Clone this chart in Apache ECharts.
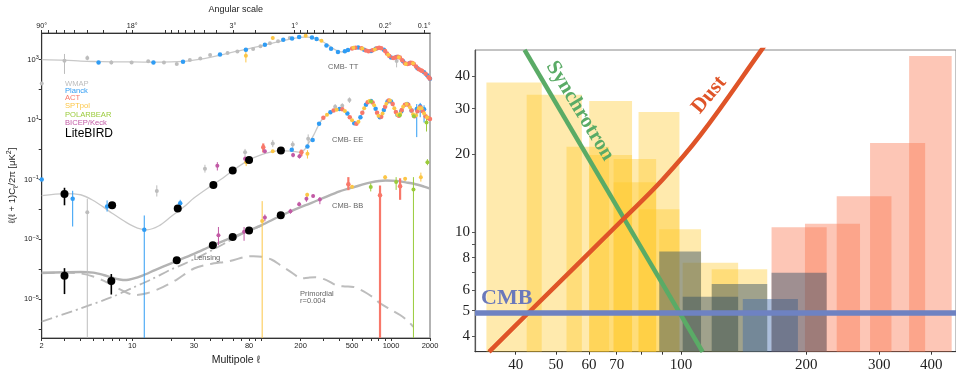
<!DOCTYPE html>
<html>
<head>
<meta charset="utf-8">
<script src="https://cdn.jsdelivr.net/npm/echarts@6/dist/echarts.min.js"></script>
<style>
  html, body { margin: 0; padding: 0; background: #fff; }
  #main { width: 956px; height: 376px; }
</style>
</head>
<body>
<div id="main"></div>
<script>
const lg = Math.log10;

// ---------- left panel: CMB power spectra (multipole l, D_l in uK^2) ----------
const xTickLabels = [2, 10, 30, 80, 200, 500, 1000, 2000];
const xTicks = [2, 3, 4, 5, 6, 7, 8, 9, 10, 20, 30, 40, 50, 60, 70, 80, 90, 100, 200, 300, 400, 500, 600, 700, 800, 900, 1000, 2000];
const angleLabels = [90, 18, 3, 1, 0.2, 0.1];
const angleTicks = [90, 80, 70, 60, 50, 40, 30, 20, 18, 10, 9, 8, 7, 6, 5, 4, 3, 2, 1, 0.9, 0.8, 0.7, 0.6, 0.5, 0.4, 0.3, 0.2, 0.1];
const yExpLabels = [-5, -3, -1, 1, 3];
const yExpTicks = [-6, -5, -4, -3, -2, -1, 0, 1, 2, 3];

const ttCurve = [[2,1000],[3,960],[4,900],[5,870],[7,850],[10,840],[15,830],[20,840],[25,880],[30,960],[40,1200],[50,1480],[60,1800],[80,2350],[100,2900],[120,3500],[150,4400],[180,5200],[200,5550],[220,5700],[240,5550],[260,5100],[280,4500],[300,3900],[330,3000],[360,2300],[400,1850],[430,1800],[470,2050],[510,2450],[540,2550],[570,2500],[610,2250],[650,1950],[690,1900],[740,2150],[790,2450],[820,2480],[860,2300],[910,1800],[960,1380],[1010,1150],[1060,1140],[1110,1230],[1150,1220],[1200,1050],[1260,820],[1310,700],[1370,730],[1430,790],[1480,760],[1540,630],[1600,520],[1680,450],[1760,410],[1820,370],[1900,300],[2000,230]];
const eeCurve = [[2,0.029],[3,0.034],[4,0.031],[5,0.02],[6,0.012],[7,0.0075],[9,0.0037],[11,0.0024],[13,0.0021],[16,0.0028],[20,0.0058],[25,0.012],[30,0.024],[40,0.058],[50,0.11],[60,0.2],[80,0.45],[100,0.68],[120,0.84],[140,0.92],[170,0.88],[200,0.82],[215,1.0],[230,1.6],[250,2.8],[270,5.5],[290,9.5],[320,14.5],[360,20],[400,22.5],[440,19.5],[480,12],[520,7.5],[550,7.4],[580,12],[620,24],[660,38],[690,42.5],[720,37],[760,23],[800,13.5],[830,12],[870,19],[920,34],[970,43],[1000,40],[1060,24],[1120,14.5],[1150,13.5],[1210,21],[1280,31],[1330,33],[1400,26],[1480,15],[1530,13],[1600,19],[1680,26],[1760,19],[1850,13],[1950,11],[2000,10.5]];
const bbTotal = [[2,7.7e-5],[3,8e-5],[4,8.2e-5],[5,7.8e-5],[6,6.5e-5],[7,5.3e-5],[8,4.6e-5],[9,4.4e-5],[10,4.8e-5],[12,6.2e-5],[15,9.5e-5],[20,1.6e-4],[30,3.3e-4],[42,6.4e-4],[60,1.2e-3],[80,2e-3],[100,3e-3],[143,6.4e-3],[200,1.2e-2],[282,0.0215],[400,0.04],[512,0.055],[700,0.08],[906,0.093],[1100,0.09],[1300,0.08],[1500,0.072],[1800,0.058],[2000,0.05]];
const bbLensing = [[2,1.8e-6],[4,5e-6],[7,1.2e-5],[10,2.4e-5],[14,4.6e-5],[20,1e-4],[25,1.5e-4],[35,3e-4],[50,6.8e-4],[70,1.5e-3],[100,2.9e-3]];
const bbPrimordial = [[2,7.5e-5],[3,7.8e-5],[4,7.3e-5],[5,5.8e-5],[6,4.2e-5],[7,3e-5],[8.5,1.9e-5],[10.5,1.4e-5],[13,1.6e-5],[17.4,2.6e-5],[22,4.5e-5],[30,1.07e-4],[40,1.5e-4],[57,1.9e-4],[75,2.65e-4],[86,2.76e-4],[100,2.65e-4],[120,2.1e-4],[139,1.4e-4],[170,8e-5],[203,5e-5],[230,5.3e-5],[260,5.5e-5],[317,4.4e-5],[380,2.9e-5],[440,2.7e-5],[512,2.6e-5],[580,2.1e-5],[650,1.6e-5],[740,1.1e-5],[822,7.4e-6],[1000,4.5e-6],[1175,3e-6],[1350,1.9e-6],[1490,1.2e-6]];

// measured points: [l, D] or [l, D, low, high]
const wmapPts = [[2,160],[3,925,334,1550],[4.5,1140,950,1380],[6.9,810,700,950],[9.9,810,720,910],[13.3,880,800,960],[17.6,810],[22.1,720],[27.9,970],[33.6,1100],[40,1430],[54.6,1670],[65,1890],[86,2270],[98,2780],[116,3500],[134,4080],[165,5300],[1104,900,553,1190],
  [4.5,0.0081,1e-9,0.0228],[15.5,0.041,0.027,0.064],[36.5,0.23,0.17,0.31],[74.5,0.81,0.6,1.05],[122,1.6,1.2,2.1],[174,1.47,1.1,1.9],[229,2.3,1.6,3.2],[370,27,22,33],[420,29,25,35],[477,45,36,55]];
const planckPts = [[5.5,810],[14.6,810],[24.7,860],[47.7,1500],[75.6,2150],[106,3160],[147,4640],[172,5100],[195,5750],[245,5500],[266,4900],[317,2950],[344,2300],[389,1800],[440,1900],[465,2100],[557,2550],[620,2150],[700,1950],[760,2300],[880,2150],[1000,1170],[1100,1230],[1240,880],[1400,770],[1600,520],[1800,380],[1900,300],[2000,230],
  [2,0.1],[3.47,0.023,0.0027,0.042],[6.4,0.0126,0.0085,0.02],[12.4,0.0021,1e-9,0.0063],[23.5,0.0162,0.011,0.021],[171,0.98],[226,1.27],[248,2.1],[278,7.2],[340,17.5],[400,22.5],[460,16],[520,7.5],[580,12],[640,31],[700,42],[760,23],[820,12],[880,21],[940,40],[1000,40],[1120,14.5],[1200,19],[1330,33],[1440,20],[1580,22.6,2.6,33],[1680,28,12,36],[1800,22,8,30]];
const actPts = [[500,2350],[530,2520],[590,2400],[640,2020],[670,1920],[720,2050],[780,2400],[810,2480],[840,2420],[900,1960],[930,1620],[970,1330],[1040,1130],[1080,1190],[1130,1240],[1170,1180],[1220,960],[1280,760],[1340,710],[1380,750],[1420,790],[1460,780],[1500,720],[1560,590],[1640,480],[1700,440],[1740,420],[1850,340],[1950,260],[1990,235],
  [103,1.2,0.8,1.6],[203,0.81,0.6,1.0],[300,11.5],[360,20],[420,22],[480,12],[540,7.2],[600,17],[660,38],[720,37],[780,17],[840,12.5],[900,27],[960,43],[1030,33],[1090,18],[1150,13.5],[1210,21],[1280,31],[1360,31],[1440,20],[1520,13],[1600,19],[1680,26],[1760,19],[1850,13],[1950,11],[2000,10.5],
  [468,0.07,0.044,0.12],[822,0.03,1e-9,0.063],[1175,0.06,0.021,0.11]];
const sptPts = [[75.6,1360,810,2000],[122,5300,4600,6000],[219,6250],[290,4300],[512,2500],[600,2350],[750,2200],[950,1450],[1150,1210],[1300,720],[1480,760],
  [76,0.38,0.28,0.5],[122,0.88],[226,0.72,0.5,0.95],[320,14.5],[380,21.5],[440,19.5],[500,9.5],[560,8.5],[620,24],[680,42],[740,30],[800,13.5],[860,16],[920,34],[980,43],[1060,24],[1120,14.5],[1180,16],[1240,27],[1320,33],[1400,26],[1480,15],[1560,14],[1640,24],[1720,24],[1800,16],[1900,12],
  [101,4.1e-3,1e-9,0.019],[225,0.031,0.026,0.036],[500,0.057,0.05,0.065],[900,0.12,0.1,0.14],[1285,0.105,0.09,0.12],[1700,0.12,0.085,0.17]];
const pbPts = [[700,40],[1170,14],[1500,13],[1880,8,4,12],
  [697,0.056,0.04,0.075],[1095,0.083,0.045,0.12],[1490,0.046,1e-9,0.12],[1910,0.38,0.3,0.48]];
const bkPts = [[45.5,0.29,0.2,0.38],[74.5,0.49,0.38,0.6],[106,0.88,0.75,1.0],[175,0.66,0.55,0.78],[196,0.6,0.5,0.72],
  [46.4,1.39e-3,6.4e-4,2.6e-3],[73.2,1.8e-3,9e-4,2.6e-3],[106,5.4e-3,4e-3,6.8e-3],[167,8.8e-3,7.2e-3,1.05e-2],[195,0.015,0.013,0.018],[222,0.023,0.018,0.027],[250,0.028,0.025,0.031],[282,0.0215,0.015,0.026]];
const litebirdPts = [[3,0.033,0.0138,0.053],[7,0.0138],[22.5,0.0107],[42.4,0.066],[59.8,0.2],[80,0.45],[141,0.93],
  [3,6.1e-5,1.5e-5,1.1e-4],[6.9,4.1e-5,1.45e-5,7e-5],[22.1,2e-4],[42,6.4e-4],[59.8,1.2e-3],[80,2e-3],[140.6,6.4e-3]];

const expNames = ['WMAP', 'Planck', 'ACT', 'SPTpol', 'POLARBEAR', 'BICEP/Keck', 'LiteBIRD'];
const expColors = ['#bdbdbd', '#2f9cf4', '#f8786a', '#fcc646', '#9acb3a', '#c25aa5', '#000000'];
const expPoints = [wmapPts, planckPts, actPts, sptPts, pbPts, bkPts, litebirdPts];

// ---------- right panel: LiteBIRD bands vs foregrounds (GHz, uK-arcmin) ----------
const freqLabels = [40, 50, 60, 70, 100, 200, 300, 400];
const freqTicks = [40, 50, 60, 70, 80, 90, 100, 200, 300, 400];
const sensLabels = [4, 5, 6, 8, 10, 20, 30, 40];
const sensTicks = [4, 5, 6, 7, 8, 9, 10, 20, 30, 40];

const bandLow  = [34.0, 42.5, 53.0, 60.1, 60.1, 68.8, 68.8, 79.0, 79.0, 88.6, 100.9, 118.5, 165.1, 198.7, 236.9, 285.0, 353.9, 88.6, 100.9, 118.5, 140.8, 165.1];
const bandHigh = [46.2, 57.7, 67.1, 76.2, 76.2, 87.1, 87.1, 99.1, 99.1, 111.7, 137.2, 161.2, 224.1, 269.6, 320.9, 386.8, 448.0, 111.7, 137.2, 161.2, 191.1, 224.1];
const bandSens = [37.8, 33.9, 21.4, 32.1, 19.9, 19.2, 15.6, 29.1, 12.3, 10.3, 7.65, 7.22, 10.47, 10.8, 13.8, 22.1, 47.9, 8.44, 5.66, 6.33, 5.54, 7.0];
const bandGroup = [0, 0, 0, 0, 0, 0, 0, 0, 0, 0, 0, 0, 2, 2, 2, 2, 2, 1, 1, 1, 3, 1];
const bandColors = ['rgba(255,200,40,0.38)', 'rgba(45,75,100,0.45)', 'rgba(250,120,80,0.42)', 'rgba(55,100,170,0.42)'];

const synchFreq = [42.0, 112.7];
const synchSens = [50.5, 3.47];
const dustFreq = [34.5, 43.1, 72.2, 90.1, 111.3, 156.2, 165];
const dustSens = [3.47, 4.94, 11.17, 15.93, 23.7, 50.5, 57.4];
const cmbLevel = 4.93;

// axis extents (log10)
const LX = [lg(2), lg(2000)], LY = [-6.29, 3.89];
const RX = [1.504, 2.6617], RY = [0.5408, 1.703];

const SANS = '"Liberation Sans", Arial, sans-serif';
const SERIF = '"Liberation Serif", "Times New Roman", serif';

const chart = echarts.init(document.getElementById('main'));

const toLog = pts => pts.map(p => [lg(p[0]), lg(p[1])]);

function curve(data, color, width, type) {
  return {
    type: 'line', xAxisIndex: 0, yAxisIndex: 0, data: toLog(data),
    smooth: 0.3, symbol: 'none', silent: true, z: 1,
    lineStyle: { color: color, width: width, type: type || 'solid' }
  };
}

function errorBars(pts, color, width) {
  return {
    type: 'custom', xAxisIndex: 0, yAxisIndex: 0, z: 2, silent: true,
    data: pts.filter(p => p.length === 4).map(p => [lg(p[0]), lg(p[1]), lg(p[2]), lg(p[3])]),
    renderItem(params, api) {
      const cs = params.coordSys;
      const clampY = y => Math.max(cs.y, Math.min(cs.y + cs.height, y));
      const a = api.coord([api.value(0), api.value(2)]);
      const b = api.coord([api.value(0), api.value(3)]);
      return {
        type: 'line',
        shape: { x1: a[0], y1: clampY(a[1]), x2: b[0], y2: clampY(b[1]) },
        style: { stroke: color, lineWidth: width }
      };
    }
  };
}

const series = [
  curve(ttCurve, '#c8c8c8', 1.3),
  curve(eeCurve, '#c8c8c8', 1.3),
  curve(bbPrimordial, '#bdbdbd', 2, [13, 7]),
  curve(bbLensing, '#b8b8b8', 1.8, [11, 4, 2, 4]),
  curve(bbTotal, '#b3b3b3', 2.4)
];

const errWidths = [1, 1, 2.2, 1, 1, 1, 1.6];
const dotSizes = [4, 4.5, 4.5, 4, 4, 4, 8];
expPoints.forEach((pts, i) => {
  series.push(errorBars(pts, expColors[i], errWidths[i]));
});
expPoints.forEach((pts, i) => {
  series.push({
    type: 'scatter', xAxisIndex: 0, yAxisIndex: 0, silent: true, z: 3,
    data: toLog(pts), symbolSize: dotSizes[i],
    itemStyle: { color: expColors[i], opacity: 1 }
  });
});

// right panel
series.push({
  type: 'custom', xAxisIndex: 2, yAxisIndex: 1, silent: true, z: 1,
  data: bandLow.map((lo, i) => [lg(lo), lg(bandHigh[i]), lg(bandSens[i]), bandGroup[i]]),
  encode: { x: [0, 1], y: 2 },
  renderItem(params, api) {
    const p0 = api.coord([api.value(0), api.value(2)]);
    const p1 = api.coord([api.value(1), RY[0]]);
    const cs = params.coordSys;
    const rect = echarts.graphic.clipRectByRect(
      { x: p0[0], y: p0[1], width: p1[0] - p0[0], height: p1[1] - p0[1] },
      { x: cs.x, y: cs.y, width: cs.width, height: cs.height });
    return rect && { type: 'rect', shape: rect, style: { fill: bandColors[api.value(3)] } };
  }
});
series.push({
  type: 'line', xAxisIndex: 2, yAxisIndex: 1, silent: true, z: 4, symbol: 'none',
  data: synchFreq.map((f, i) => [lg(f), lg(synchSens[i])]),
  lineStyle: { color: '#5aab66', width: 4.5 }
});
series.push({
  type: 'line', xAxisIndex: 2, yAxisIndex: 1, silent: true, z: 4, symbol: 'none',
  smooth: 0.4,
  data: dustFreq.map((f, i) => [lg(f), lg(dustSens[i])]),
  lineStyle: { color: '#df5428', width: 4.5 },
  markLine: {
    silent: true, symbol: 'none', label: { show: false },
    lineStyle: { color: '#6e82c2', width: 5.5, type: 'solid' },
    data: [{ yAxis: lg(cmbLevel) }]
  }
});

const legendY = [84, 91.2, 98.4, 106, 114.6, 123.2];
const graphics = expNames.slice(0, 6).map((n, i) => ({
  type: 'text', x: 65, y: legendY[i], z: 50,
  style: { text: n, fill: expColors[i], font: '7.6px ' + SANS, verticalAlign: 'middle' }
}));
graphics.push({ type: 'text', x: 65, y: 134, z: 50, style: { text: 'LiteBIRD', fill: '#000', font: '12px ' + SANS, verticalAlign: 'middle' } });
const notes = [['CMB- TT', 328, 67], ['CMB- EE', 332, 139.5], ['CMB- BB', 332, 206], ['Lensing', 194, 257.5], ['Primordial', 300, 293.5], ['r=0.004', 300, 300.5]];
notes.forEach(n => graphics.push({
  type: 'text', x: n[1], y: n[2], z: 50,
  style: { text: n[0], fill: '#666', font: '7.5px ' + SANS, verticalAlign: 'middle' }
}));
graphics.push({ type: 'text', x: 481, y: 298, z: 50, style: { text: 'CMB', fill: '#6a78bb', font: 'bold 22px ' + SERIF, verticalAlign: 'middle' } });
graphics.push({ type: 'text', x: 580, y: 111, z: 50, rotation: -58.6 * Math.PI / 180,
  style: { text: 'Synchrotron', fill: '#5aab66', font: 'bold 21px ' + SERIF, align: 'center', verticalAlign: 'middle' } });
graphics.push({ type: 'text', x: 709, y: 95, z: 50, rotation: 50 * Math.PI / 180,
  style: { text: 'Dust', fill: '#df5428', font: 'bold 21px ' + SERIF, align: 'center', verticalAlign: 'middle' } });

const supStyle = { fontSize: 5.5, fontFamily: SANS, color: '#222', verticalAlign: 'top', lineHeight: 10 };

const option = {
  animation: false,
  backgroundColor: '#fff',
  textStyle: { fontFamily: SANS },
  grid: [
    { left: 41.7, top: 32.3, width: 388.3, height: 305.7, show: true, borderColor: '#9a9a9a', borderWidth: 1.5 },
    { left: 475, top: 50, width: 481, height: 301.7, show: true, borderColor: '#888', borderWidth: 1 }
  ],
  xAxis: [
    {
      type: 'value', gridIndex: 0, min: LX[0], max: LX[1], position: 'bottom',
      name: 'Multipole ℓ', nameLocation: 'middle', nameGap: 16,
      nameTextStyle: { fontSize: 10.5, color: '#222', fontFamily: SANS },
      axisLine: { onZero: false, lineStyle: { color: '#333', width: 1 } },
      axisTick: { length: 3, lineStyle: { color: '#333' }, customValues: xTicks.map(lg) },
      axisLabel: { fontSize: 7.5, color: '#222', margin: 4, customValues: xTickLabels.map(lg),
        formatter: v => String(Math.round(Math.pow(10, v))) },
      splitLine: { show: false }
    },
    {
      type: 'value', gridIndex: 0, min: LX[0], max: LX[1], position: 'top',
      name: 'Angular scale', nameLocation: 'middle', nameGap: 19,
      nameTextStyle: { fontSize: 9, color: '#222', fontFamily: SANS },
      axisLine: { onZero: false, lineStyle: { color: '#333', width: 1 } },
      axisTick: { length: 3, lineStyle: { color: '#333' }, customValues: angleTicks.map(t => lg(180 / t)) },
      axisLabel: { fontSize: 7.2, color: '#222', margin: 3, customValues: angleLabels.map(t => lg(180 / t)),
        formatter: v => (Math.round(18000 / Math.pow(10, v)) / 100) + '°' },
      splitLine: { show: false }
    },
    {
      type: 'value', gridIndex: 1, min: RX[0], max: RX[1], position: 'bottom',
      axisLine: { onZero: false, lineStyle: { color: '#333', width: 1.2 } },
      axisTick: { length: 3, lineStyle: { color: '#333' }, customValues: freqTicks.map(lg) },
      axisLabel: { fontSize: 15, color: '#222', fontFamily: SERIF, margin: 6, customValues: freqLabels.map(lg),
        formatter: v => String(Math.round(Math.pow(10, v))) },
      splitLine: { show: false }
    }
  ],
  yAxis: [
    {
      type: 'value', gridIndex: 0, min: LY[0], max: LY[1],
      name: 'ℓ(ℓ + 1)C{sub|ℓ}/2π [μK{sup|2}]', nameLocation: 'middle', nameGap: 22, nameRotate: 90,
      nameTextStyle: { fontSize: 9.5, color: '#222', fontFamily: SANS, lineHeight: 14,
        rich: { sub: { fontSize: 7, fontFamily: SANS, color: '#222', verticalAlign: 'bottom', lineHeight: 14 },
                sup: { fontSize: 7, fontFamily: SANS, color: '#222', verticalAlign: 'top', lineHeight: 14 } } },
      axisLine: { onZero: false, lineStyle: { color: '#333', width: 1 } },
      axisTick: { length: 3, lineStyle: { color: '#333' }, customValues: yExpTicks },
      axisLabel: { fontSize: 7.5, color: '#222', margin: 3, lineHeight: 10, customValues: yExpLabels,
        formatter: v => { const e = Math.round(v); return '10{s|' + (e < 0 ? '−' + (-e) : e) + '}'; },
        rich: { s: supStyle } },
      splitLine: { show: false }
    },
    {
      type: 'value', gridIndex: 1, min: RY[0], max: RY[1],
      axisLine: { onZero: false, lineStyle: { color: '#555', width: 1.2 } },
      axisTick: { length: 3, lineStyle: { color: '#555' }, customValues: sensTicks.map(lg) },
      axisLabel: { fontSize: 15, color: '#222', fontFamily: SERIF, margin: 5, customValues: sensLabels.map(lg),
        formatter: v => String(Math.round(Math.pow(10, v))) },
      splitLine: { show: false }
    }
  ],
  graphic: graphics,
  series: series
};

chart.setOption(option);
</script>
</body>
</html>
